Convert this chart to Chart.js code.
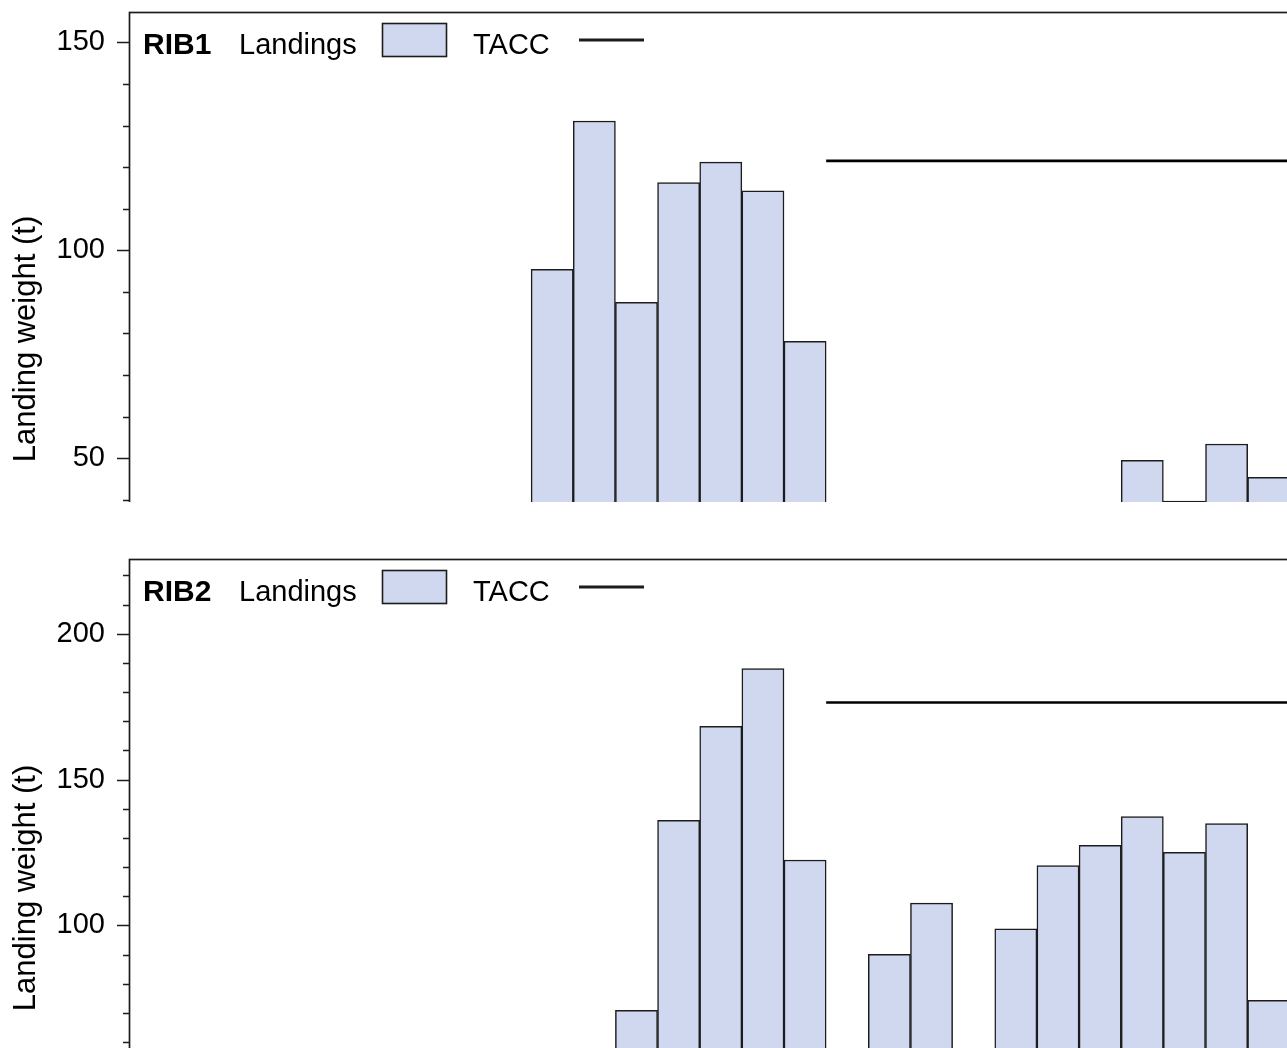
<!DOCTYPE html>
<html>
<head>
<meta charset="utf-8">
<title>Ribaldo landings and TACC</title>
<script src="https://cdn.jsdelivr.net/npm/chart.js@4.4.1/dist/chart.umd.min.js"></script>
<style>
  html, body { margin: 0; padding: 0; background: #fff; overflow: hidden; width: 1287px; height: 1048px; }
  .panel { position: absolute; left: 0; width: 1287px; overflow: hidden; }
  #p1 { top: 0; height: 502px; }
  #p2 { top: 540px; height: 508px; }
  canvas { display: block; }
</style>
</head>
<body>
<div class="panel" id="p1"><canvas id="c1" width="1305" height="700"></canvas></div>
<div class="panel" id="p2"><canvas id="c2" width="1305" height="700"></canvas></div>
<script>
// Fishing years (start year of each October–September fishing year)
const rib1Years    = [1991, 1992, 1993, 1994, 1995, 1996, 1997, 2005, 2006, 2007, 2008];
const rib1Landings = [95.4, 131.1, 87.5, 116.3, 121.2, 114.3, 78.1, 49.5, 39.7, 53.4, 45.4];
const rib1TaccYears = [1998, 1999, 2000, 2001, 2002, 2003, 2004, 2005, 2006, 2007, 2008];
const rib1Tacc      = [121.5, 121.5, 121.5, 121.5, 121.5, 121.5, 121.5, 121.5, 121.5, 121.5, 121.5];

const rib2Years    = [1993, 1994, 1995, 1996, 1997, 1999, 2000, 2002, 2003, 2004, 2005, 2006, 2007, 2008];
const rib2Landings = [70.9, 136.0, 168.2, 188.0, 122.4, 90.1, 107.6, 98.8, 120.5, 127.4, 137.3, 125.0, 134.9, 74.3];
const rib2TaccYears = [1998, 1999, 2000, 2001, 2002, 2003, 2004, 2005, 2006, 2007, 2008];
const rib2Tacc      = [176.4, 176.4, 176.4, 176.4, 176.4, 176.4, 176.4, 176.4, 176.4, 176.4, 176.4];

const FONT = '"Liberation Sans", Arial, Helvetica, sans-serif';
const BAR_FILL = 'rgb(208, 216, 240)';
const INK = '#1c1c1c';

// Axis frame, tick marks (major every 50 t, minor every 10 t) and the in-plot key
const framePlugin = {
  id: 'frameAndKey',
  afterDraw(chart, args, opts) {
    const ctx = chart.ctx;
    const a = chart.chartArea;
    const y = chart.scales.y;
    ctx.save();
    ctx.strokeStyle = INK;
    ctx.lineWidth = 1.7;
    ctx.strokeRect(a.left + 0.5, a.top + 0.5, a.right - a.left, a.bottom - a.top);

    ctx.lineWidth = 1.5;
    ctx.beginPath();
    for (const t of y.ticks) {
      const py = Math.round(y.getPixelForValue(t.value)) + 0.5;
      const len = t.value % 50 === 0 ? 12 : 6;
      ctx.moveTo(a.left - len, py);
      ctx.lineTo(a.left + 0.5, py);
    }
    ctx.stroke();

    // key: stock name, landings swatch, TACC line
    const L = a.left, T = a.top;
    const base = T + 41.5;
    ctx.fillStyle = '#000';
    ctx.textBaseline = 'alphabetic';
    ctx.textAlign = 'left';
    ctx.font = 'bold 30px ' + FONT;
    ctx.fillText(opts.stock, L + 14, base);
    ctx.font = '29px ' + FONT;
    ctx.fillText('Landings', L + 110, base);
    ctx.fillStyle = BAR_FILL;
    ctx.fillRect(L + 253, T + 11, 64, 33);
    ctx.strokeStyle = INK;
    ctx.lineWidth = 1.6;
    ctx.strokeRect(L + 253.5, T + 11.5, 64, 33);
    ctx.fillStyle = '#000';
    ctx.fillText('TACC', L + 344, base);
    ctx.lineWidth = 2.8;
    ctx.beginPath();
    ctx.moveTo(L + 450, T + 28);
    ctx.lineTo(L + 515, T + 28);
    ctx.stroke();
    ctx.restore();
  }
};

function taccSteps(years, values) {
  const pts = years.map((yr, i) => ({ x: yr - 0.5, y: values[i] }));
  pts.push({ x: years[years.length - 1] + 0.5, y: values[values.length - 1] });
  return pts;
}

function makePanel(canvasId, stock, years, landings, taccYears, tacc, padTop, padBottom) {
  const yMax = 1.2 * Math.max(...landings, ...tacc);
  const xMin = 1991 - 10.04;
  const xMax = xMin + (1305 - 129) / 42.15;
  return new Chart(document.getElementById(canvasId), {
    type: 'bar',
    data: {
      datasets: [
        {
          type: 'line',
          label: 'TACC',
          data: taccSteps(taccYears, tacc),
          borderColor: '#000',
          borderWidth: 2.6,
          pointRadius: 0,
          stepped: 'after',
          order: 0
        },
        {
          label: 'Landings',
          data: years.map((yr, i) => ({ x: yr, y: landings[i] })),
          backgroundColor: BAR_FILL,
          borderColor: INK,
          borderWidth: 1.5,
          borderSkipped: false,
          barPercentage: 1,
          categoryPercentage: 1,
          order: 1
        }
      ]
    },
    options: {
      responsive: false,
      animation: false,
      devicePixelRatio: 1,
      layout: { padding: { left: 0, right: 0, top: padTop, bottom: padBottom } },
      plugins: {
        legend: { display: false },
        tooltip: { enabled: false },
        frameAndKey: { stock: stock }
      },
      scales: {
        x: {
          type: 'linear',
          display: false,
          offset: false,
          min: xMin,
          max: xMax
        },
        y: {
          type: 'linear',
          min: 0,
          max: yMax,
          afterBuildTicks(s) {
            const ticks = [];
            for (let v = 0; v <= yMax; v += 10) ticks.push({ value: v });
            s.ticks = ticks;
          },
          afterFit(s) {
            s.width = 129;
            s.paddingTop = 0;
            s.paddingBottom = 0;
          },
          grid: { display: false, drawTicks: false },
          border: { display: false },
          ticks: {
            autoSkip: false,
            color: '#000',
            padding: 24,
            font: { family: FONT, size: 29 },
            callback: v => (v % 50 === 0 ? String(v) : '')
          },
          title: {
            display: true,
            text: 'Landing weight (t)',
            color: '#000',
            font: { family: FONT, size: 31, lineHeight: 1.2 },
            padding: { top: 8, bottom: 0 }
          }
        }
      }
    },
    plugins: [framePlugin]
  });
}

makePanel('c1', 'RIB1', rib1Years, rib1Landings, rib1TaccYears, rib1Tacc, 12, 34);
makePanel('c2', 'RIB2', rib2Years, rib2Landings, rib2TaccYears, rib2Tacc, 19, 23);
</script>
</body>
</html>
